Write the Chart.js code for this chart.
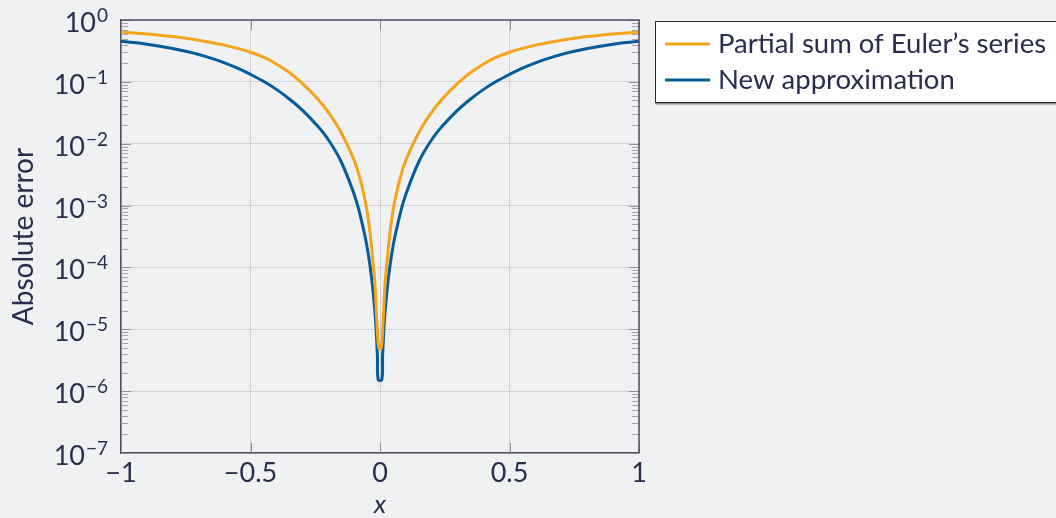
<!DOCTYPE html>
<html>
<head>
<meta charset="utf-8">
<script src="https://cdn.jsdelivr.net/npm/chart.js@4.4.0/dist/chart.umd.min.js"></script>
<style>
  html, body { margin: 0; background: #eff1f3; }
  canvas { display: block; }
</style>
</head>
<body>
<canvas id="errChart" width="1056" height="518"></canvas>
<script>
// values
const seriesLabels = ['Partial sum of Euler’s series', 'New approximation'];

const xEuler = [-1, -0.95, -0.9, -0.85, -0.8, -0.75, -0.7, -0.65, -0.6, -0.55, -0.5, -0.45, -0.4, -0.35, -0.3, -0.25, -0.2, -0.15, -0.1, -0.08, -0.06, -0.05, -0.04, -0.03, -0.02, -0.01, -0.004,
  0.004, 0.01, 0.02, 0.03, 0.04, 0.05, 0.06, 0.08, 0.1, 0.15, 0.2, 0.25, 0.3, 0.35, 0.4, 0.45, 0.5, 0.55, 0.6, 0.65, 0.7, 0.75, 0.8, 0.85, 0.9, 0.95, 1];
const yEuler = [0.638, 0.618, 0.595, 0.569, 0.540, 0.507, 0.4715, 0.433, 0.392, 0.348, 0.301, 0.250, 0.195, 0.1414, 0.0945, 0.0583, 0.0324, 0.01516, 0.00538, 0.00302, 0.00135, 0.000813, 0.000417, 0.000166, 5.75e-5, 9.1e-6, 4.9e-6,
  4.9e-6, 9.1e-6, 5.75e-5, 0.000166, 0.000417, 0.000813, 0.00135, 0.00302, 0.00538, 0.01516, 0.0324, 0.0583, 0.0945, 0.1414, 0.195, 0.250, 0.301, 0.348, 0.392, 0.433, 0.4715, 0.507, 0.540, 0.569, 0.595, 0.618, 0.638];

const xNew = [-1, -0.95, -0.9, -0.85, -0.8, -0.75, -0.7, -0.65, -0.6, -0.55, -0.5, -0.45, -0.4, -0.35, -0.3, -0.25, -0.2, -0.15, -0.1, -0.08, -0.06, -0.05, -0.04, -0.03, -0.02, -0.015, -0.01, -0.007,
  0.007, 0.01, 0.015, 0.02, 0.03, 0.04, 0.05, 0.06, 0.08, 0.1, 0.15, 0.2, 0.25, 0.3, 0.35, 0.4, 0.45, 0.5, 0.55, 0.6, 0.65, 0.7, 0.75, 0.8, 0.85, 0.9, 0.95, 1];
const yNew = [0.455, 0.432, 0.406, 0.377, 0.3455, 0.312, 0.2767, 0.240, 0.2032, 0.1667, 0.1321, 0.1020, 0.0756, 0.0529, 0.0350, 0.0213, 0.0117, 0.00511, 0.00153, 0.000801, 0.000350, 0.000216, 0.000118, 5.54e-5, 2.01e-5, 1.0e-5, 3.58e-6, 1.53e-6,
  1.53e-6, 3.58e-6, 1.0e-5, 2.01e-5, 5.54e-5, 0.000118, 0.000216, 0.000350, 0.000801, 0.00153, 0.00511, 0.0117, 0.0213, 0.0350, 0.0529, 0.0756, 0.1020, 0.1321, 0.1667, 0.2032, 0.240, 0.2767, 0.312, 0.3455, 0.377, 0.406, 0.432, 0.455];

const xTicks = [-1, -0.5, 0, 0.5, 1];
const xTickLabels = ['−1', '−0.5', '0', '0.5', '1'];
const yExponents = [0, -1, -2, -3, -4, -5, -6, -7];
const minorMultipliers = [2, 3, 4, 5, 6, 7, 8, 9];

const TEXT = '#2b2d4e';
const AXIS = '#4f4f63';
const FONT = 'Lato, "Noto Sans", sans-serif';

function toPoints(xs, ys) {
  return xs.map((x, i) => ({ x: x, y: ys[i] }));
}

// extra drawing: top/right frame, inward ticks, 10^k labels, legend box
const framePlugin = {
  id: 'frame',
  afterDraw(chart) {
    const ctx = chart.ctx;
    const a = chart.chartArea;
    const xs = chart.scales.x, ys = chart.scales.y;
    ctx.save();

    // inward tick marks
    ctx.lineWidth = 1;
    ctx.strokeStyle = '#a3a3a8';
    yExponents.forEach(k => {
      if (k === 0) return;
      minorMultipliers.forEach(m => {
        const py = Math.round(ys.getPixelForValue(m * Math.pow(10, k))) + 0.5;
        ctx.beginPath();
        ctx.moveTo(a.left, py); ctx.lineTo(a.left + 7, py);
        ctx.moveTo(a.right, py); ctx.lineTo(a.right - 7, py);
        ctx.stroke();
      });
    });
    ctx.strokeStyle = '#8d8d94';
    yExponents.forEach(k => {
      const py = Math.round(ys.getPixelForValue(Math.pow(10, k))) + 0.5;
      ctx.beginPath();
      ctx.moveTo(a.left, py); ctx.lineTo(a.left + 10, py);
      ctx.moveTo(a.right, py); ctx.lineTo(a.right - 10, py);
      ctx.stroke();
    });
    xTicks.forEach(v => {
      const px = Math.round(xs.getPixelForValue(v)) + 0.5;
      ctx.beginPath();
      ctx.moveTo(px, a.bottom); ctx.lineTo(px, a.bottom - 10);
      ctx.moveTo(px, a.top); ctx.lineTo(px, a.top + 10);
      ctx.stroke();
    });

    // top and right frame lines
    ctx.strokeStyle = AXIS;
    ctx.lineWidth = 1.5;
    ctx.beginPath();
    ctx.moveTo(a.left, a.top); ctx.lineTo(a.right, a.top); ctx.lineTo(a.right, a.bottom);
    ctx.stroke();

    // y tick labels as 10 with superscript exponent
    ctx.fillStyle = TEXT;
    ctx.textBaseline = 'alphabetic';
    ctx.textAlign = 'left';
    yExponents.forEach(k => {
      const py = ys.getPixelForValue(Math.pow(10, k));
      const expText = k === 0 ? '0' : '−' + Math.abs(k);
      ctx.font = '19px ' + FONT;
      const expW = ctx.measureText(expText).width;
      ctx.font = '27px ' + FONT;
      const baseW = ctx.measureText('10').width;
      const right = a.left - 13;
      const baseY = py + 12;
      ctx.fillText('10', right - expW - baseW - 1, baseY);
      ctx.font = '19px ' + FONT;
      ctx.fillText(expText, right - expW, baseY - 10);
    });

    // legend
    const lx = 655.5, ly = 21.5, lw = 420, lh = 81;
    ctx.fillStyle = '#ffffff';
    ctx.fillRect(lx, ly, lw, lh);
    ctx.strokeStyle = '#8f8f8f';
    ctx.lineWidth = 2;
    ctx.beginPath();
    ctx.moveTo(lx, ly + lh + 1); ctx.lineTo(lx + lw, ly + lh + 1);
    ctx.stroke();
    ctx.strokeStyle = '#2a2a2a';
    ctx.lineWidth = 1;
    ctx.strokeRect(lx, ly, lw, lh);

    ctx.font = '27.5px ' + FONT;
    ctx.textBaseline = 'middle';
    chart.data.datasets.forEach((ds, i) => {
      const cy = 44 + i * 36;
      ctx.strokeStyle = ds.borderColor;
      ctx.lineWidth = 3;
      ctx.beginPath();
      ctx.moveTo(665, cy); ctx.lineTo(710, cy);
      ctx.stroke();
      ctx.fillStyle = TEXT;
      ctx.fillText(ds.label, 718, cy);
    });

    ctx.restore();
  }
};

new Chart(document.getElementById('errChart'), {
  type: 'line',
  data: {
    datasets: [
      {
        label: seriesLabels[0],
        data: toPoints(xEuler, yEuler),
        borderColor: '#f5a31a',
        borderWidth: 3,
        pointRadius: 0,
        tension: 0.4
      },
      {
        label: seriesLabels[1],
        data: toPoints(xNew, yNew),
        borderColor: '#075b99',
        borderWidth: 3,
        pointRadius: 0,
        tension: 0.4
      }
    ]
  },
  options: {
    responsive: false,
    animation: false,
    layout: { padding: { left: 0, top: 20, right: 417, bottom: 0 } },
    plugins: {
      legend: { display: false },
      tooltip: { enabled: false }
    },
    scales: {
      x: {
        type: 'linear',
        min: -1,
        max: 1,
        afterBuildTicks: s => { s.ticks = xTicks.map(v => ({ value: v })); },
        afterFit: s => { s.height = 65; },
        ticks: {
          callback: (v, i) => xTickLabels[i],
          font: { family: FONT, size: 27 },
          color: TEXT,
          padding: 4,
          maxRotation: 0
        },
        grid: { color: '#cfcfd2', drawTicks: false },
        border: { display: true, color: AXIS, width: 1.5 },
        title: {
          display: true,
          text: 'x',
          color: TEXT,
          font: { family: FONT, size: 26, style: 'italic', lineHeight: 1 },
          padding: { top: 0, bottom: 0 }
        }
      },
      y: {
        type: 'logarithmic',
        min: 1e-7,
        max: 1,
        afterBuildTicks: s => { s.ticks = yExponents.map(k => ({ value: Math.pow(10, k) })); },
        afterFit: s => { s.width = 121; },
        ticks: { display: false },
        grid: { color: '#d3d3d6', drawTicks: false },
        border: { display: true, color: AXIS, width: 1.5 },
        title: {
          display: true,
          text: 'Absolute error',
          color: TEXT,
          font: { family: FONT, size: 28 },
          padding: { top: 7, bottom: 0 }
        }
      }
    }
  },
  plugins: [framePlugin]
});
</script>
</body>
</html>
